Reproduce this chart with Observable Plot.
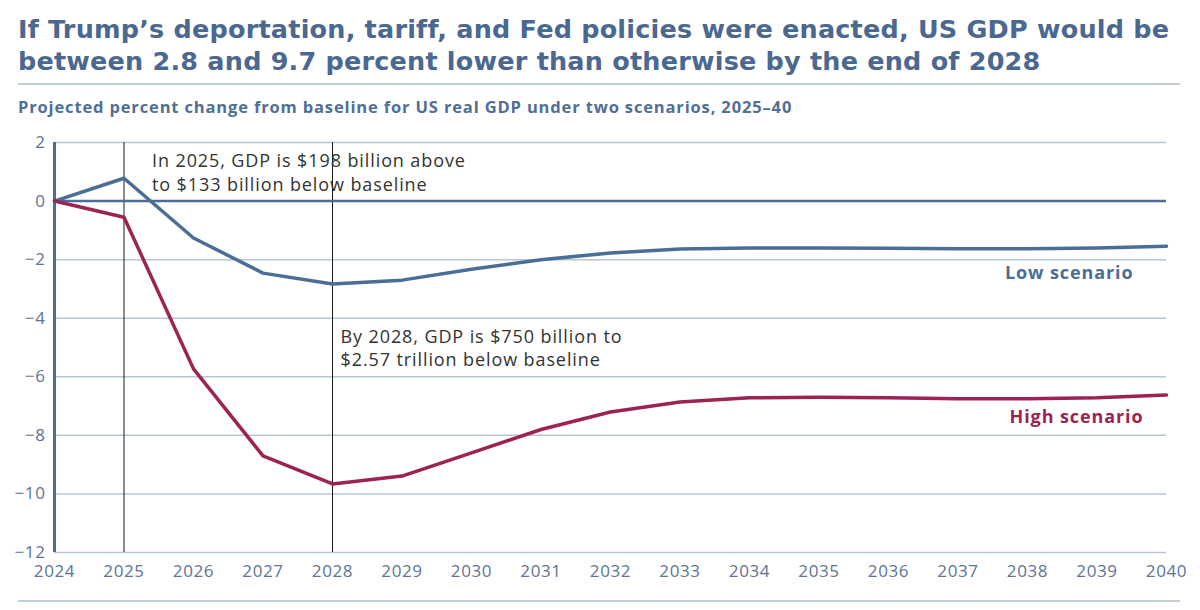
<!DOCTYPE html>
<html>
<head>
<meta charset="utf-8">
<script src="https://cdn.jsdelivr.net/npm/d3@7"></script>
<script src="https://cdn.jsdelivr.net/npm/@observablehq/plot@0.6"></script>
<style>
  html, body { margin: 0; padding: 0; background: #fff; width: 1200px; height: 610px; overflow: hidden; font-family: "Open Sans", sans-serif; }
  #title { position: absolute; left: 18px; top: 13px; width: 1180px; font-family: "DejaVu Sans", sans-serif; font-weight: 700; font-size: 25.5px; line-height: 32px; color: #4a6890; letter-spacing: 0.2px; white-space: nowrap; }
  #rule1 { position: absolute; left: 18px; top: 83px; width: 1162px; height: 2px; background: #c3ccd7; }
  #subtitle { position: absolute; left: 18px; top: 95px; font-weight: 700; font-size: 16.5px; color: #4f6f95; letter-spacing: 0.85px; white-space: nowrap; }
  #chart { position: absolute; left: 0; top: 130px; }
  #rule2 { position: absolute; left: 18px; top: 600px; width: 1162px; height: 2px; background: #c3ccd7; }
  #chart g[aria-label="text"] text { letter-spacing: 0.9px; }
  #chart g[aria-label="x-axis tick label"] text, #chart g[aria-label="y-axis tick label"] text { letter-spacing: 0.6px; }
</style>
</head>
<body>
<div id="title">If Trump’s deportation, tariff, and Fed policies were enacted, US GDP would be<br>between 2.8 and 9.7 percent lower than otherwise by the end of 2028</div>
<div id="rule1"></div>
<div id="subtitle">Projected percent change from baseline for US real GDP under two scenarios, 2025–40</div>
<div id="chart"></div>
<div id="rule2"></div>
<script>
const years = [2024, 2025, 2026, 2027, 2028, 2029, 2030, 2031, 2032, 2033, 2034, 2035, 2036, 2037, 2038, 2039, 2040];
const lowScenario = [0, 0.78, -1.26, -2.46, -2.83, -2.7, -2.33, -2.0, -1.77, -1.64, -1.6, -1.6, -1.61, -1.63, -1.63, -1.6, -1.54];
const highScenario = [0, -0.55, -5.73, -8.7, -9.66, -9.39, -8.6, -7.8, -7.2, -6.86, -6.72, -6.7, -6.72, -6.75, -6.75, -6.72, -6.62];
const yTicks = [2, 0, -2, -4, -6, -8, -10, -12];
const gridTicks = [2, -2, -4, -6, -8, -10, -12];
const markerYears = [2025, 2028];
const annotation2025 = [{x: 2025, y: 1.02, text: "In 2025, GDP is $198 billion above\nto $133 billion below baseline"}];
const annotation2028 = [{x: 2028, y: -5.0, text: "By 2028, GDP is $750 billion to\n$2.57 trillion below baseline"}];
const lowLabel = [{x: 2040, y: -2.46, text: "Low scenario"}];
const highLabel = [{x: 2040, y: -7.37, text: "High scenario"}];

const low = years.map((x, i) => ({x, y: lowScenario[i]}));
const high = years.map((x, i) => ({x, y: highScenario[i]}));
const blue = "#4a6e96", red = "#9b2453";
const yFmt = d => d < 0 ? "\u2212" + Math.abs(d) : String(d);

const chart = Plot.plot({
  width: 1200,
  height: 460,
  marginTop: 12,
  marginBottom: 38,
  marginLeft: 54,
  marginRight: 34,
  style: {fontFamily: "Open Sans, sans-serif", background: "transparent"},
  x: {domain: [2024, 2040], label: null},
  y: {domain: [-12, 2], label: null},
  marks: [
    Plot.ruleY(gridTicks, {stroke: "#b9c5d3", strokeWidth: 1.5}),
    Plot.ruleX(markerYears, {stroke: "#1a1a1a", strokeWidth: 1}),
    Plot.ruleY([0], {stroke: blue, strokeWidth: 2.5}),
    Plot.ruleX([2024], {stroke: blue, strokeWidth: 3}),
    Plot.line(low, {x: "x", y: "y", stroke: blue, strokeWidth: 3.5}),
    Plot.line(high, {x: "x", y: "y", stroke: red, strokeWidth: 3.5}),
    Plot.text(annotation2025, {x: "x", y: "y", text: "text", textAnchor: "start", dx: 28, fontSize: 18, lineHeight: 1.33, fill: "#333"}),
    Plot.text(annotation2028, {x: "x", y: "y", text: "text", textAnchor: "start", dx: 8, fontSize: 18, lineHeight: 1.25, fill: "#333"}),
    Plot.text(lowLabel, {x: "x", y: "y", text: "text", fill: blue, textAnchor: "end", fontSize: 18, fontWeight: 700, dx: -33}),
    Plot.text(highLabel, {x: "x", y: "y", text: "text", fill: red, textAnchor: "end", fontSize: 18, fontWeight: 700, dx: -23}),
    Plot.axisX({ticks: years, tickFormat: d => String(d), tickSize: 0, tickPadding: 12, fontSize: 17, fill: "#5d7494", label: null}),
    Plot.axisY({ticks: yTicks, tickFormat: yFmt, tickSize: 0, tickPadding: 9, fontSize: 17, fill: "#5d7494", label: null})
  ]
});
document.getElementById("chart").appendChild(chart);
</script>
</body>
</html>
